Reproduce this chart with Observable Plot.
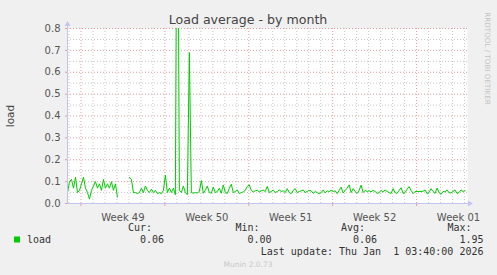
<!DOCTYPE html>
<html><head><meta charset="utf-8">
<script src="https://cdn.jsdelivr.net/npm/d3@7"></script>
<script src="https://cdn.jsdelivr.net/npm/@observablehq/plot@0.6"></script>
<style>
html,body{margin:0;padding:0;background:#f0f0f0;}
svg{display:block;}
svg text{white-space:pre;}
</style>
</head><body><div id="chart"></div>
<script>
// ---- data ----
const seriesStart = "2025-11-29T21:00:00Z";
const seriesEnd = "2026-01-02T06:00:00Z";
const stepHours = 4;
const loadValues = [
  0.05,0.10,0.11,0.07,0.12,0.05,0.06,0.09,0.12,0.07,0.05,0.02,0.06,0.08,0.10,0.07,0.09,0.06,0.11,0.07,0.09,0.07,0.10,0.06,0.09,
  0.03,null,null,null,null,null,
  0.12,0.11,0.05,0.05,0.045,0.05,0.07,0.05,0.08,0.06,0.05,0.065,0.05,0.06,0.045,0.05,0.045,0.06,0.13,0.05,0.07,0.05,0.07,0.04,1.95,0.06,0.05,0.08,0.05,0.04,0.69,
  0.05,0.047,0.05,0.048,0.055,0.105,0.047,0.06,0.08,0.05,0.047,0.075,0.05,0.055,0.07,0.047,0.085,0.05,0.046,0.07,0.088,0.05,0.055,0.062,0.045,0.05,0.053,0.06,0.078,0.085,
  0.06,0.053,0.058,0.06,0.053,0.058,0.061,0.055,0.078,0.05,0.055,0.061,0.05,0.055,0.062,0.055,0.058,0.05,0.068,0.05,0.045,0.06,0.068,0.05,0.055,0.058,0.062,0.05,0.055,0.06,
  0.058,0.046,0.055,0.05,0.045,0.05,0.062,0.048,0.058,0.055,
  0.06,0.055,0.058,0.045,0.06,0.075,0.048,0.06,0.07,0.085,0.05,0.068,0.055,0.046,0.06,0.084,0.05,0.06,0.055,0.058,0.053,0.06,0.055,0.046,0.05,0.06,0.052,0.062,0.055,0.05,
  0.046,0.068,0.05,0.046,0.06,0.072,0.046,0.05,0.065,0.077,0.06,0.045,0.055,0.055,0.055,0.055,0.056,0.062,0.045,0.05,0.068,0.055,0.046,0.07,0.05,0.042,0.055,0.053,0.062,0.05,
  0.048,0.055,0.062,0.046,0.05,0.062,0.055,0.058
];
const weekStarts = ["2025-12-01","2025-12-08","2025-12-15","2025-12-22","2025-12-29"];
const weekLabels = ["Week 49","Week 50","Week 51","Week 52","Week 01"];
const yTicks = [0,0.1,0.2,0.3,0.4,0.5,0.6,0.7,0.8];
const yMinor = [0.05,0.15,0.25,0.35,0.45,0.55,0.65,0.75];
const chartTitle = "Load average - by month";
const yLabel = "load";
const seriesName = "load";
const legendHeaders = ["Cur:","Min:","Avg:","Max:"];
const legendValues = ["0.06","0.00","0.06","1.95"];
const lastUpdate = "Last update: Thu Jan  1 03:40:00 2026";
const sideNote = "RRDTOOL / TOBI OETIKER";
const footer = "Munin 2.0.73";

// ---- derived ----
const t0 = new Date(seriesStart), t1 = new Date(seriesEnd);
const rows = loadValues.map((v, i) => ({date: new Date(+t0 + i * stepHours * 3600e3), load: v}));
const weekDates = weekStarts.map(d => new Date(d + "T00:00:00Z"));
const labelDates = weekDates.map(d => new Date(+d + 3.5 * 864e5));
const dayDates = d3.utcDay.range(t0, t1).filter(d => d.getUTCDay() !== 1);

const mono = "'DejaVu Sans Mono', monospace";
const txt = "#444";
const major = "#e89a9a";
const minor = "#c8c8c8";
const note = (s, o) => Plot.text([s], {text: d => d, lineAnchor: "middle", textAnchor: "middle", ...o});
const colRight = [163.5, 271, 376.5, 483];
const L = 67;

const chart = Plot.plot({
  width: 497, height: 275,
  marginLeft: 67, marginRight: 30, marginTop: 28, marginBottom: 72,
  style: {background: "#f0f0f0", fontFamily: "'DejaVu Sans', sans-serif", fontSize: "10px", overflow: "visible"},
  x: {type: "utc", domain: [t0, t1]},
  y: {domain: [0, 0.8]},
  marks: [
    Plot.frame({fill: "white", stroke: null}),
    Plot.ruleX(dayDates, {stroke: minor, strokeDasharray: "1,2"}),
    Plot.ruleY(yMinor, {stroke: minor, strokeDasharray: "1,2"}),
    Plot.ruleX(weekDates, {stroke: major, strokeDasharray: "1,2"}),
    Plot.ruleY(yTicks.filter(v => v > 0), {stroke: major, strokeDasharray: "1,2"}),
    Plot.axisX({ticks: weekDates, tickSize: 3, tickFormat: () => "", stroke: major, label: null}),
    Plot.axisY({ticks: yTicks, tickSize: 2, tickPadding: 5, tickFormat: d3.format(".1f"), stroke: major, fill: "#555", fontSize: 10, label: null}),
    Plot.line(rows, {x: "date", y: "load", stroke: "#00cc00", strokeWidth: 1, clip: true}),
    Plot.text(weekLabels, {x: (d, i) => labelDates[i], text: d => d, frameAnchor: "bottom", lineAnchor: "middle", dy: 14, fill: "#555", fontSize: 10}),
    note(chartTitle, {frameAnchor: "top", dx: -19.5, dy: -9, fontSize: 12.6, fill: txt}),
    note(yLabel, {frameAnchor: "left", dx: -57, rotate: -90, fontSize: 10.5, fill: txt}),
    note(sideNote, {frameAnchor: "top-right", dx: 20, dy: 30, rotate: 90, fontSize: 7.2, fill: "#c4c4c4"}),
    note(seriesName, {frameAnchor: "bottom-left", dx: -40.5, dy: 36.5, textAnchor: "start", fontFamily: mono, fontSize: 10, fill: "#333"}),
    ...legendHeaders.map((h, i) => note(h, {frameAnchor: "bottom-left", dx: colRight[i] - L - 12, dy: 24.5, textAnchor: "end", fontFamily: mono, fontSize: 10, fill: "#333"})),
    ...legendValues.map((v, i) => note(v, {frameAnchor: "bottom-left", dx: colRight[i] - L, dy: 36.5, textAnchor: "end", fontFamily: mono, fontSize: 10, fill: "#333"})),
    note(lastUpdate, {frameAnchor: "bottom-left", dx: colRight[3] - L, dy: 48, textAnchor: "end", fontFamily: mono, fontSize: 10, fill: "#333"}),
    note(footer, {frameAnchor: "bottom", dx: -19.5, dy: 61, fontSize: 7.5, fill: "#c8c8c8"})
  ]
});

// axis lines, arrows and legend swatch, positioned from the Plot scales
const svg = d3.select(chart);
const xs = chart.scale("x"), ys = chart.scale("y");
const X0 = xs.apply(t0), X1 = xs.apply(t1), Y0 = ys.apply(0), Y1 = ys.apply(0.8);
const axisColor = "#c4c4f2";
svg.append("line").attr("x1", X0).attr("x2", X1 + 2).attr("y1", Y0 + 0.5).attr("y2", Y0 + 0.5).attr("stroke", axisColor);
svg.append("line").attr("x1", X0 + 0.5).attr("x2", X0 + 0.5).attr("y1", Y0 + 1).attr("y2", Y1 - 3).attr("stroke", axisColor);
svg.append("polygon").attr("points", `${X1+1},${Y0-2.5} ${X1+6},${Y0+0.5} ${X1+1},${Y0+3.5}`).attr("fill", axisColor);
svg.append("polygon").attr("points", `${X0-2.5},${Y1-2} ${X0+0.5},${Y1-7} ${X0+3.5},${Y1-2}`).attr("fill", axisColor);
svg.append("rect").attr("x", X0 - 53).attr("y", Y0 + 33.5).attr("width", 6).attr("height", 6).attr("fill", "#00cc00");

document.getElementById("chart").append(chart);
</script>
</body></html>
